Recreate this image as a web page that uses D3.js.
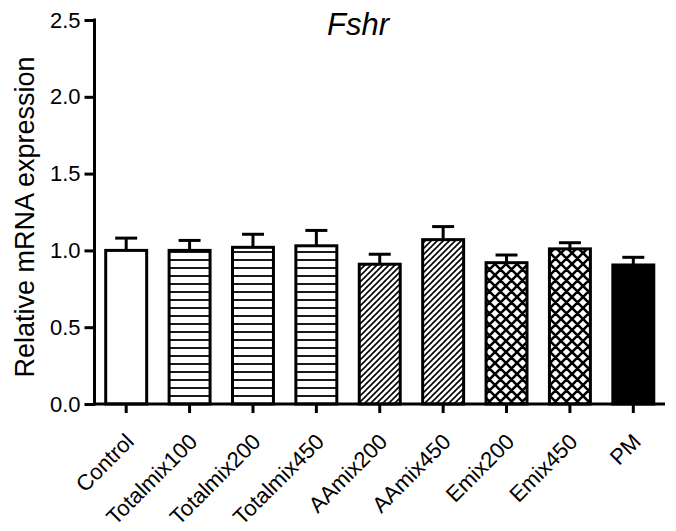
<!DOCTYPE html>
<html>
<head>
<meta charset="utf-8">
<script src="https://cdn.jsdelivr.net/npm/d3@7"></script>
<style>
  html, body { margin: 0; padding: 0; background: #fff; }
  svg { display: block; font-family: "Liberation Sans", Arial, sans-serif; }
</style>
</head>
<body>
<svg id="chart" width="676" height="531"></svg>
<script>
// Fshr relative expression per treatment group (mean and upper SEM)
const groups = ["Control", "Totalmix100", "Totalmix200", "Totalmix450", "AAmix200", "AAmix450", "Emix200", "Emix450", "PM"];
const means  = [1.00, 1.00, 1.02, 1.03, 0.91, 1.07, 0.92, 1.01, 0.905];
const errors = [0.08, 0.065, 0.085, 0.10, 0.065, 0.085, 0.05, 0.04, 0.05];
const fills  = ["open", "hlines", "hlines", "hlines", "diag", "diag", "cross", "cross", "solid"];
const yTicks = [0.0, 0.5, 1.0, 1.5, 2.0, 2.5];

const svg = d3.select("#chart");

// fill patterns
const defs = svg.append("defs");
const ph = defs.append("pattern").attr("id", "hlines").attr("patternUnits", "userSpaceOnUse")
  .attr("width", 10).attr("height", 8).attr("y", 0);
ph.append("rect").attr("width", 10).attr("height", 8).attr("fill", "#fff");
ph.append("line").attr("x1", 0).attr("x2", 10).attr("y1", 4).attr("y2", 4)
  .attr("stroke", "#000").attr("stroke-width", 1.8);

const pd = defs.append("pattern").attr("id", "diag").attr("patternUnits", "userSpaceOnUse")
  .attr("width", 6).attr("height", 6);
pd.append("rect").attr("width", 6).attr("height", 6).attr("fill", "#fff");
pd.append("path").attr("d", "M-1,1 L1,-1 M0,6 L6,0 M5,7 L7,5")
  .attr("stroke", "#000").attr("stroke-width", 1.6);

const pc = defs.append("pattern").attr("id", "cross").attr("patternUnits", "userSpaceOnUse")
  .attr("width", 11).attr("height", 11);
pc.append("rect").attr("width", 11).attr("height", 11).attr("fill", "#fff");
pc.append("path").attr("d", "M0,0 L11,11 M-1,10 L1,12 M10,-1 L12,1 M0,11 L11,0 M-1,1 L1,-1 M10,12 L12,10")
  .attr("stroke", "#000").attr("stroke-width", 2.6);

const fillFor = k => k === "open" ? "#fff" : k === "solid" ? "#000" : `url(#${k})`;

const x = d3.scaleBand().domain(groups).range([94.5, 665]).paddingInner(0.354).paddingOuter(0.177);
const y = d3.scaleLinear().domain([0, 2.5]).range([404, 20]);

// bars
const data = groups.map((g, i) => ({ g, m: means[i], e: errors[i], f: fills[i] }));
svg.append("g").selectAll("rect").data(data).join("rect")
  .attr("x", d => x(d.g))
  .attr("y", d => y(d.m))
  .attr("width", x.bandwidth())
  .attr("height", d => y(0) - y(d.m))
  .attr("fill", d => fillFor(d.f))
  .attr("stroke", "#000")
  .attr("stroke-width", 3);

// upper error bars
const eb = svg.append("g").attr("stroke", "#000").attr("stroke-width", 3);
eb.selectAll("line.v").data(data).join("line").attr("class", "v")
  .attr("x1", d => x(d.g) + x.bandwidth() / 2).attr("x2", d => x(d.g) + x.bandwidth() / 2)
  .attr("y1", d => y(d.m)).attr("y2", d => y(d.m + d.e));
eb.selectAll("line.c").data(data).join("line").attr("class", "c")
  .attr("x1", d => x(d.g) + x.bandwidth() / 2 - 11).attr("x2", d => x(d.g) + x.bandwidth() / 2 + 11)
  .attr("y1", d => y(d.m + d.e)).attr("y2", d => y(d.m + d.e));

// y axis
const yAxis = svg.append("g").attr("transform", "translate(94.5,0)")
  .call(d3.axisLeft(y).tickValues(yTicks).tickFormat(d3.format(".1f")).tickSize(10).tickSizeOuter(0).tickPadding(4));
yAxis.select(".domain").attr("stroke-width", 3).attr("d", `M0,${y(2.5) - 1.5}V${y(0) + 1.5}`);
yAxis.selectAll(".tick line").attr("stroke-width", 3);
yAxis.selectAll(".tick text").attr("font-size", 22).attr("fill", "#000")
  .attr("font-family", "'Liberation Sans', Arial, sans-serif");

// x axis
const xAxis = svg.append("g").attr("transform", `translate(0,${y(0)})`)
  .call(d3.axisBottom(x).tickSize(9).tickSizeOuter(0));
xAxis.select(".domain").attr("stroke-width", 3).attr("d", "M93,0H665");
xAxis.selectAll(".tick line").attr("stroke-width", 3);
xAxis.selectAll(".tick text")
  .attr("font-size", 22).attr("fill", "#000")
  .attr("font-family", "'Liberation Sans', Arial, sans-serif")
  .attr("text-anchor", "end")
  .attr("y", 0).attr("dy", 0)
  .attr("transform", "translate(9,39) rotate(-45)");

// y axis title
svg.append("text")
  .attr("transform", "translate(34,217) rotate(-90)")
  .attr("text-anchor", "middle")
  .attr("font-size", 27)
  .text("Relative mRNA expression");

// chart title
svg.append("text")
  .attr("x", 358).attr("y", 35)
  .attr("text-anchor", "middle")
  .attr("font-size", 31)
  .attr("font-style", "italic")
  .text("Fshr");
</script>
</body>
</html>
